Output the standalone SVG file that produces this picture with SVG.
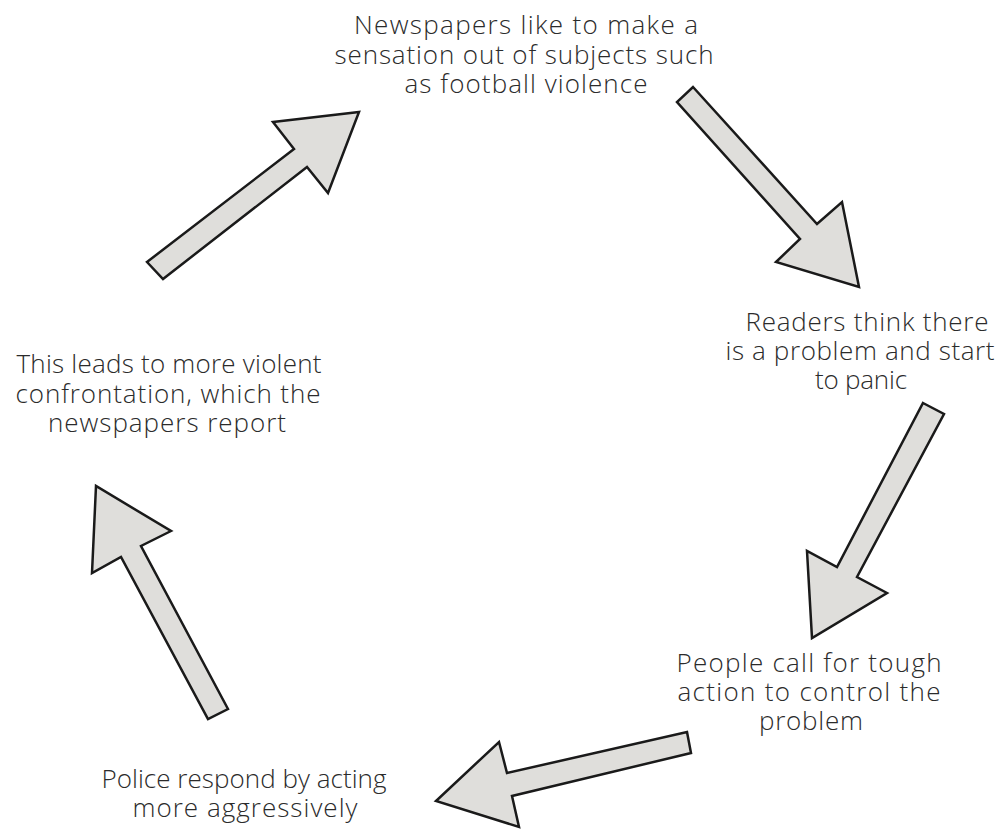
<svg xmlns="http://www.w3.org/2000/svg" width="1001" height="829" viewBox="0 0 1001 829">
<style>
.lbl{font-family:"Open Sans","Liberation Sans",sans-serif;font-weight:300;font-size:26px;fill:#2b2b2b;text-anchor:middle}
.arr{fill:#dfdedb;stroke:#1a1a1a;stroke-width:2.5;stroke-linejoin:miter}
</style>
<rect width="1001" height="829" fill="#fff"/>
<g id="n1">
<text class="lbl" x="526" y="34" textLength="344" lengthAdjust="spacing">Newspapers like to make a</text>
<text class="lbl" x="524" y="64" textLength="379" lengthAdjust="spacing">sensation out of subjects such</text>
<text class="lbl" x="526" y="93" textLength="243" lengthAdjust="spacing">as football violence</text>
</g>
<g id="n2">
<text class="lbl" x="867" y="331" textLength="243" lengthAdjust="spacing">Readers think there</text>
<text class="lbl" x="860" y="360" textLength="269" lengthAdjust="spacing">is a problem and start</text>
<text class="lbl" x="861" y="389" textLength="92" lengthAdjust="spacing">to panic</text>
</g>
<g id="n3">
<text class="lbl" x="809" y="672" textLength="265" lengthAdjust="spacing">People call for tough</text>
<text class="lbl" x="809" y="701" textLength="263" lengthAdjust="spacing">action to control the</text>
<text class="lbl" x="811" y="730" textLength="104" lengthAdjust="spacing">problem</text>
</g>
<g id="n4">
<text class="lbl" x="244" y="788" textLength="285" lengthAdjust="spacing">Police respond by acting</text>
<text class="lbl" x="245" y="817" textLength="225" lengthAdjust="spacing">more aggressively</text>
</g>
<g id="n5">
<text class="lbl" x="169" y="373" textLength="305" lengthAdjust="spacing">This leads to more violent</text>
<text class="lbl" x="168" y="403" textLength="305" lengthAdjust="spacing">confrontation, which the</text>
<text class="lbl" x="167" y="432" textLength="238" lengthAdjust="spacing">newspapers report</text>
</g>
<g id="connectors">
<polygon class="arr" points="147,262 294,149 273,122 359,112 328,193 307,167 163,279"/>
<polygon class="arr" points="693,87 817,224 842,202 859,287 776,262 800,239 677,102"/>
<polygon class="arr" points="923,403 944,414 857,577 887,593 812,638 807,551 837,567"/>
<polygon class="arr" points="687,732 691,753 512,796 519,827 436,801 499,742 507,773"/>
<polygon class="arr" points="228,709 141,546 171,531 96,486 92,573 121,557 208,719"/>
</g>
</svg>
